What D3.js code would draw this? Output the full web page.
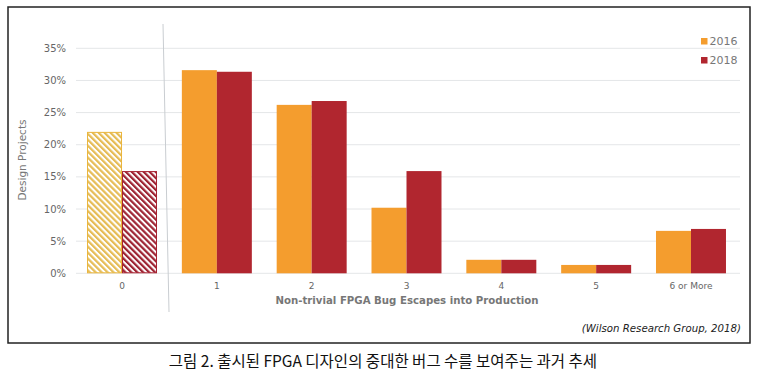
<!DOCTYPE html>
<html><head><meta charset="utf-8">
<script src="https://cdn.jsdelivr.net/npm/d3@7"></script>
<style>body{margin:0;background:#fff}svg{display:block}</style>
</head><body>
<svg id="c" width="764" height="383"></svg>
<script>
const categories = ["0","1","2","3","4","5","6 or More"];
const series = ["2016","2018"];
const values2016 = [22.0, 31.6, 26.2, 10.2, 2.1, 1.3, 6.6];
const values2018 = [15.9, 31.35, 26.8, 15.9, 2.1, 1.3, 6.9];
const yTicks = [0,5,10,15,20,25,30,35];
const colors = {"2016":"#F49D2E","2018":"#B1262F"};
const hatchColors = {"2016":"#E6BC55","2018":"#9E2433"};

const svg = d3.select("#c");
const defs = svg.append("defs");
series.forEach(s=>{
  const p = defs.append("pattern").attr("id","h"+s).attr("patternUnits","userSpaceOnUse")
    .attr("width",4.2).attr("height",4.2).attr("patternTransform","rotate(-45)");
  p.append("rect").attr("width",4.2).attr("height",4.2).attr("fill","#fff");
  p.append("rect").attr("x",0).attr("width",2.2).attr("height",4.2).attr("fill",hatchColors[s]);
});

// frame
svg.append("rect").attr("x",8).attr("y",7).attr("width",742).attr("height",336)
  .attr("fill","none").attr("stroke","#222").attr("stroke-width",1.5);

const x = d3.scaleBand().domain(categories).range([74.6,738.4]).paddingInner(0.262).paddingOuter(0.131);
const x1 = d3.scaleBand().domain(series).range([0,x.bandwidth()]);
const y = d3.scaleLinear().domain([0,35]).range([273.3,48.3]);

// grid
svg.append("g").selectAll("line").data(yTicks).join("line")
  .attr("x1",76).attr("x2",740).attr("y1",d=>y(d)).attr("y2",d=>y(d))
  .attr("stroke","#e4e6e8").attr("stroke-width",1);

// y labels
svg.append("g").selectAll("text").data(yTicks).join("text")
  .attr("x",66).attr("y",d=>y(d)).attr("dy","0.35em").attr("text-anchor","end")
  .attr("font-family","DejaVu Sans, Verdana, sans-serif").attr("font-size",10).attr("fill","#666")
  .text(d=>d+"%");

// separator
svg.append("line").attr("x1",163).attr("y1",24).attr("x2",169).attr("y2",312)
  .attr("stroke","#c9cdd1").attr("stroke-width",1);

// bars
const data = [];
categories.forEach((c,i)=>{
  data.push({c, s:"2016", v:values2016[i], i});
  data.push({c, s:"2018", v:values2018[i], i});
});
svg.append("g").selectAll("rect").data(data).join("rect")
  .attr("x",d=>x(d.c)+x1(d.s)+(d.i===0?0.5:0))
  .attr("y",d=>y(d.v)+(d.i===0?0.5:0))
  .attr("width",d=>x1.bandwidth()-(d.i===0?1:0))
  .attr("height",d=>y(0)-y(d.v)-(d.i===0?1:0))
  .attr("fill",d=>d.i===0?"url(#h"+d.s+")":colors[d.s])
  .attr("stroke",d=>d.i===0?(d.s==="2016"?"#EAB53C":"#A82231"):"none")
  .attr("stroke-width",1);

// x labels
svg.append("g").selectAll("text").data(categories).join("text")
  .attr("x",d=>x(d)+x.bandwidth()/2).attr("y",286).attr("dy","0.35em").attr("text-anchor","middle")
  .attr("font-family","DejaVu Sans, Verdana, sans-serif").attr("font-size",9).attr("fill","#666")
  .text(d=>d);

// axis titles
svg.append("text").attr("x",407).attr("y",300).attr("dy","0.35em").attr("text-anchor","middle")
  .attr("font-family","DejaVu Sans, Verdana, sans-serif").attr("font-weight","bold").attr("font-size",10.2)
  .attr("fill","#777").text("Non-trivial FPGA Bug Escapes into Production");
svg.append("text").attr("transform","translate(22,160) rotate(-90)").attr("dy","0.35em").attr("text-anchor","middle")
  .attr("font-family","DejaVu Sans, Verdana, sans-serif").attr("font-size",10.5).attr("fill","#777")
  .text("Design Projects");

// legend
const lg = svg.append("g").selectAll("g").data(series).join("g")
  .attr("transform",(d,i)=>`translate(701,${38+i*19})`);
lg.append("rect").attr("width",6.5).attr("height",6.5).attr("fill",d=>colors[d]);
lg.append("text").attr("x",8.5).attr("y",3.5).attr("dy","0.35em")
  .attr("font-family","DejaVu Sans, Verdana, sans-serif").attr("font-size",11).attr("fill","#777").text(d=>d);

// source
svg.append("text").attr("x",741).attr("y",328).attr("dy","0.35em").attr("text-anchor","end")
  .attr("font-family","DejaVu Sans, Verdana, sans-serif").attr("font-style","italic").attr("font-size",10.2)
  .attr("fill","#222").text("(Wilson Research Group, 2018)");

// caption
svg.append("text").attr("x",383).attr("y",362).attr("dy","0.35em").attr("text-anchor","middle")
  .attr("font-family","Noto Sans CJK KR, sans-serif").attr("font-size",15.5).attr("fill","#111")
  .text("그림 2. 출시된 FPGA 디자인의 중대한 버그 수를 보여주는 과거 추세");
</script>
</body></html>
